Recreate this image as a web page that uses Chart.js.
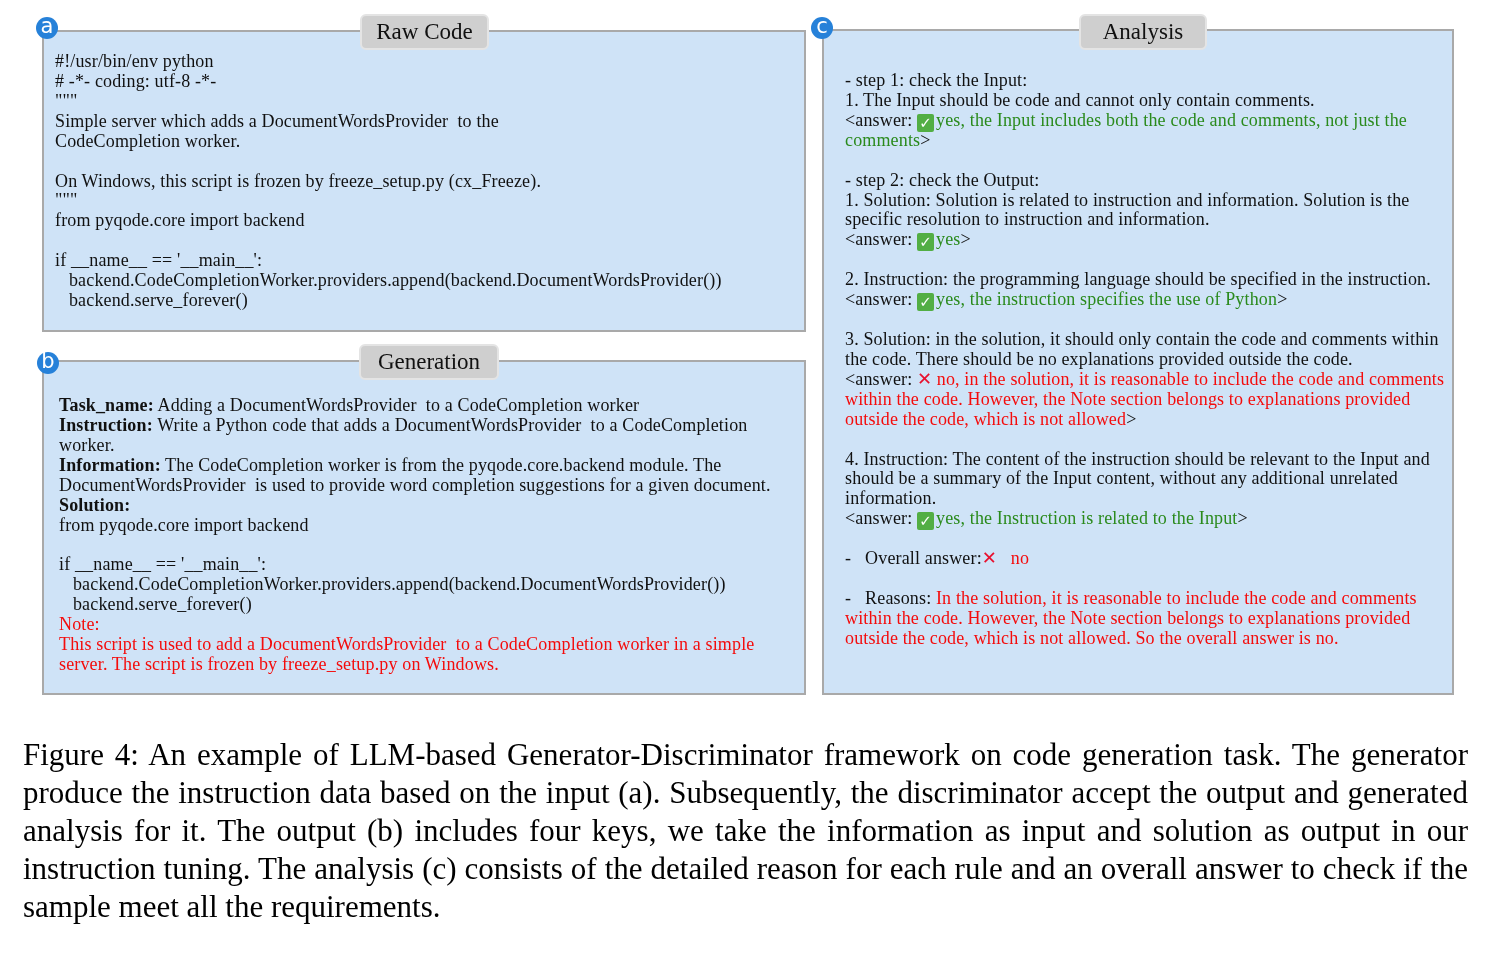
<!DOCTYPE html>
<html>
<head>
<meta charset="utf-8">
<script src="https://cdn.jsdelivr.net/npm/chart.js@4.4.1/dist/chart.umd.min.js"></script>
<style>
  html, body { margin: 0; padding: 0; background: #fff; }
  #wrap { position: relative; width: 1506px; height: 954px; overflow: hidden; }
  #frame { position: absolute; left: 0; top: 0; }
  .txt {
    position: absolute; font-family: "Liberation Serif", serif; font-size: 18px;
    letter-spacing: 0.15px; line-height: 19.93px; color: #111; white-space: pre;
  }
  .txt div { height: 19.93px; }
  .g { color: #2a8a1c; }
  .r { color: #f40c0c; }
  .ok {
    display: inline-block; width: 17px; height: 18px; background: #52ae44; color: #fff;
    border-radius: 2px; font: bold 15px "DejaVu Sans", sans-serif; line-height: 18px;
    text-align: center; vertical-align: -2px; margin-right: 2px; letter-spacing: 0;
  }
  .no { color: #e8102e; font: 18px "DejaVu Sans", sans-serif; line-height: 10px; letter-spacing: 0; }
  #caption {
    position: absolute; left: 23px; top: 736px; width: 1445px;
    font-family: "Liberation Serif", serif; font-size: 31px; line-height: 38px; color: #000;
  }
  #caption div { text-align: justify; text-align-last: justify; white-space: nowrap; }
  #caption div:last-child { text-align-last: left; }
</style>
</head>
<body>
<div id="wrap">
  <canvas id="frame" width="1506" height="954"></canvas>
  <div class="txt" id="rawText" style="left:55px; top:52px;"></div>
  <div class="txt" id="genText" style="left:59px; top:396px;"></div>
  <div class="txt" id="anaText" style="left:845px; top:71px;"></div>
  <div id="caption"></div>
</div>
<script>
// panel titles and their badge letters
const panelTitles = ["Raw Code", "Generation", "Analysis"];
const panelBadges = ["a", "b", "c"];

const OK = '<span class="ok">✓</span>';
const NO = '<span class="no">✕</span>';

const rawCodeLines = [
  "#!/usr/bin/env python",
  "# -*- coding: utf-8 -*-",
  '"""',
  "Simple server which adds a DocumentWordsProvider  to the",
  "CodeCompletion worker.",
  "",
  "On Windows, this script is frozen by freeze_setup.py (cx_Freeze).",
  '"""',
  "from pyqode.core import backend",
  "",
  "if __name__ == '__main__':",
  "   backend.CodeCompletionWorker.providers.append(backend.DocumentWordsProvider())",
  "   backend.serve_forever()"
];

const generationLines = [
  "<b>Task_name:</b> Adding a DocumentWordsProvider  to a CodeCompletion worker",
  "<b>Instruction:</b> Write a Python code that adds a DocumentWordsProvider  to a CodeCompletion",
  "worker.",
  "<b>Information:</b> The CodeCompletion worker is from the pyqode.core.backend module. The",
  "DocumentWordsProvider  is used to provide word completion suggestions for a given document.",
  "<b>Solution:</b>",
  "from pyqode.core import backend",
  "",
  "if __name__ == '__main__':",
  "   backend.CodeCompletionWorker.providers.append(backend.DocumentWordsProvider())",
  "   backend.serve_forever()",
  '<span class="r">Note:</span>',
  '<span class="r">This script is used to add a DocumentWordsProvider  to a CodeCompletion worker in a simple</span>',
  '<span class="r">server. The script is frozen by freeze_setup.py on Windows.</span>'
];

const analysisLines = [
  "- step 1: check the Input:",
  "1. The Input should be code and cannot only contain comments.",
  '&lt;answer: ' + OK + '<span class="g">yes, the Input includes both the code and comments, not just the</span>',
  '<span class="g">comments</span>&gt;',
  "",
  "- step 2: check the Output:",
  "1. Solution: Solution is related to instruction and information. Solution is the",
  "specific resolution to instruction and information.",
  '&lt;answer: ' + OK + '<span class="g">yes</span>&gt;',
  "",
  "2. Instruction: the programming language should be specified in the instruction.",
  '&lt;answer: ' + OK + '<span class="g">yes, the instruction specifies the use of Python</span>&gt;',
  "",
  "3. Solution: in the solution, it should only contain the code and comments within",
  "the code. There should be no explanations provided outside the code.",
  '&lt;answer: ' + NO + ' <span class="r">no, in the solution, it is reasonable to include the code and comments</span>',
  '<span class="r">within the code. However, the Note section belongs to explanations provided</span>',
  '<span class="r">outside the code, which is not allowed</span>&gt;',
  "",
  "4. Instruction: The content of the instruction should be relevant to the Input and",
  "should be a summary of the Input content, without any additional unrelated",
  "information.",
  '&lt;answer: ' + OK + '<span class="g">yes, the Instruction is related to the Input</span>&gt;',
  "",
  '-   Overall answer:' + NO + '   <span class="r">no</span>',
  "",
  '-   Reasons: <span class="r">In the solution, it is reasonable to include the code and comments</span>',
  '<span class="r">within the code. However, the Note section belongs to explanations provided</span>',
  '<span class="r">outside the code, which is not allowed. So the overall answer is no.</span>'
];

const captionLines = [
  "Figure 4: An example of LLM-based Generator-Discriminator framework on code generation task. The generator",
  "produce the instruction data based on the input (a). Subsequently, the discriminator accept the output and generated",
  "analysis for it. The output (b) includes four keys, we take the information as input and solution as output in our",
  "instruction tuning. The analysis (c) consists of the detailed reason for each rule and an overall answer to check if the",
  "sample meet all the requirements."
];

// page layout in pixel units (x0, y0, x1, y1), tab box and badge centre
const LAYOUT = [
  { box: [43, 31, 805, 331], tab: [361, 15, 488, 49], badge: [47, 28] },
  { box: [43, 361, 805, 694], tab: [360, 345, 498, 379], badge: [48, 363] },
  { box: [823, 30, 1453, 694], tab: [1080, 15, 1206, 49], badge: [822, 28] }
];

function fillLines(id, lines) {
  document.getElementById(id).innerHTML =
    lines.map(l => `<div>${l === "" ? "&nbsp;" : l}</div>`).join("");
}

fillLines("rawText", rawCodeLines.map(l => l.replace(/</g, "&lt;").replace(/"/g, "&quot;")));
fillLines("genText", generationLines);
fillLines("anaText", analysisLines);
document.getElementById("caption").innerHTML =
  captionLines.map(l => `<div>${l}</div>`).join("");

function roundRect(ctx, x, y, w, h, r) {
  ctx.beginPath();
  ctx.moveTo(x + r, y);
  ctx.arcTo(x + w, y, x + w, y + h, r);
  ctx.arcTo(x + w, y + h, x, y + h, r);
  ctx.arcTo(x, y + h, x, y, r);
  ctx.arcTo(x, y, x + w, y, r);
  ctx.closePath();
}

const panelPlugin = {
  id: "panels",
  beforeDatasetsDraw(chart) {
    const { ctx, scales: { x, y } } = chart;
    ctx.save();
    LAYOUT.forEach((p, i) => {
      const bx0 = x.getPixelForValue(p.box[0]), by0 = y.getPixelForValue(p.box[1]);
      const bx1 = x.getPixelForValue(p.box[2]), by1 = y.getPixelForValue(p.box[3]);
      ctx.fillStyle = "#cfe3f7";
      ctx.fillRect(bx0, by0, bx1 - bx0, by1 - by0);
      ctx.strokeStyle = "#a9a9a9";
      ctx.lineWidth = 2;
      ctx.strokeRect(bx0, by0, bx1 - bx0, by1 - by0);

      const tx0 = x.getPixelForValue(p.tab[0]), ty0 = y.getPixelForValue(p.tab[1]);
      const tx1 = x.getPixelForValue(p.tab[2]), ty1 = y.getPixelForValue(p.tab[3]);
      roundRect(ctx, tx0, ty0, tx1 - tx0, ty1 - ty0, 5);
      ctx.fillStyle = "#cfcfcf";
      ctx.fill();
      ctx.strokeStyle = "#e4e4e4";
      ctx.lineWidth = 2;
      ctx.stroke();
      ctx.fillStyle = "#111";
      ctx.font = '23px "Liberation Serif", serif';
      ctx.textAlign = "center";
      ctx.textBaseline = "middle";
      ctx.fillText(panelTitles[i], (tx0 + tx1) / 2, (ty0 + ty1) / 2 + 1);

      const cx = x.getPixelForValue(p.badge[0]), cy = y.getPixelForValue(p.badge[1]);
      ctx.beginPath();
      ctx.arc(cx, cy, 11, 0, Math.PI * 2);
      ctx.fillStyle = "#2681d9";
      ctx.fill();
      ctx.fillStyle = "#fff";
      ctx.font = '21px "DejaVu Sans", sans-serif';
      ctx.fillText(panelBadges[i], cx, cy);
    });
    ctx.restore();
  }
};

new Chart(document.getElementById("frame"), {
  type: "scatter",
  data: { datasets: [{ data: [] }] },
  options: {
    responsive: false,
    animation: false,
    events: [],
    layout: { padding: 0 },
    plugins: { legend: { display: false }, tooltip: { enabled: false } },
    scales: {
      x: { type: "linear", min: 0, max: 1506, display: false },
      y: { type: "linear", min: 0, max: 954, reverse: true, display: false }
    }
  },
  plugins: [panelPlugin]
});
</script>
</body>
</html>
